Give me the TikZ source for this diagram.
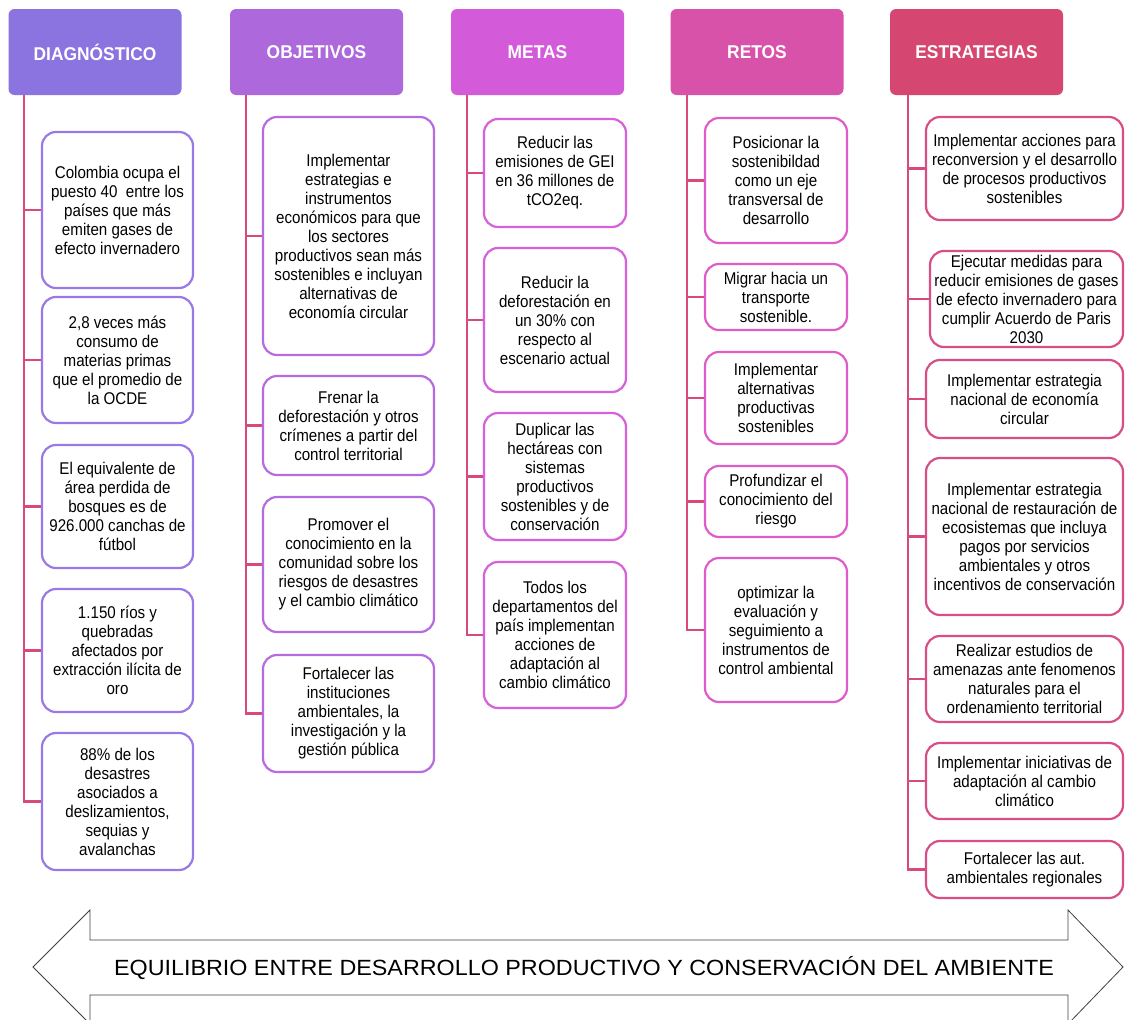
\documentclass[tikz,border=0pt]{standalone}
\usepackage{fontspec}
\setmainfont{Liberation Sans}
\newfontfamily\narrowf[FakeStretch=0.89]{Liberation Sans}
\newfontfamily\headf[FakeStretch=0.94]{Liberation Sans}
\newfontfamily\widef[FakeStretch=1.06]{Liberation Sans}
\definecolor{hA}{HTML}{8B73E0}
\definecolor{hB}{HTML}{AD69DC}
\definecolor{hC}{HTML}{D35BDA}
\definecolor{hD}{HTML}{D852AA}
\definecolor{hE}{HTML}{D54771}
\definecolor{bA}{HTML}{9A78E6}
\definecolor{bB}{HTML}{B76BE0}
\definecolor{bC}{HTML}{D760DB}
\definecolor{bD}{HTML}{E05DC9}
\definecolor{bE}{HTML}{D94E87}
\definecolor{spinec}{HTML}{D94A7B}
\tikzset{
  hdr/.style={rounded corners=6pt, draw=none, text=white, inner sep=0pt,
    font=\headf\bfseries\fontsize{18.5}{20}\selectfont,
    minimum width=173pt, minimum height=86pt},
  bx/.style={draw, rounded corners=14pt, line width=2.2pt, fill=white,
    align=center, inner sep=0pt, font=\narrowf\fontsize{17}{19}\selectfont},
  colA/.style={bx, draw=bA, minimum width=151pt},
  colB/.style={bx, draw=bB, minimum width=171pt},
  colC/.style={bx, draw=bC, minimum width=142pt},
  colD/.style={bx, draw=bD, minimum width=142pt},
  colE/.style={bx, draw=bE, minimum width=197pt},
  spine/.style={draw=spinec, line width=2.6pt},
  bigarrow/.style={draw=black!75, line width=0.8pt, fill=white, line join=miter}
}
\begin{document}
\begin{tikzpicture}[x=1pt,y=-1pt]
\useasboundingbox[fill=white] (0,0) rectangle (1125,1020);

% headers
\node[hdr, fill=hA] (hA) at (95,52) {DIAGNÓSTICO};
\node[hdr, fill=hB] (hB) at (316.5,52) {OBJETIVOS};
\node[hdr, fill=hC] (hC) at (537.5,52) {METAS};
\node[hdr, fill=hD] (hD) at (757,52) {RETOS};
\node[hdr, fill=hE] (hE) at (976.5,52) {ESTRATEGIAS};

% column 1
\node[colA, minimum height=156pt] (a1) at (117.5,210) {Colombia ocupa el\\puesto 40~ entre los\\países que más\\emiten gases de\\efecto invernadero};
\node[colA, minimum height=126pt] (a2) at (117.5,360) {2,8 veces más\\consumo de\\materias primas\\que el promedio de\\la OCDE};
\node[colA, minimum height=123pt] (a3) at (117.5,506.5) {El equivalente de\\área perdida de\\bosques es de\\926.000 canchas de\\fútbol};
\node[colA, minimum height=123pt] (a4) at (117.5,650.5) {1.150 ríos y\\quebradas\\afectados por\\extracción ilícita de\\oro};
\node[colA, minimum height=137pt] (a5) at (117.5,801.5) {88\% de los\\desastres\\asociados a\\deslizamientos,\\sequias y\\avalanchas};

% column 2
\node[colB, minimum height=238pt] (b1) at (348.5,236) {Implementar\\estrategias e\\instrumentos\\económicos para que\\los sectores\\productivos sean más\\sostenibles e incluyan\\alternativas de\\economía circular};
\node[colB, minimum height=99pt] (b2) at (348.5,425.5) {Frenar la\\deforestación y otros\\crímenes a partir del\\control territorial};
\node[colB, minimum height=135pt] (b3) at (348.5,564.5) {Promover el\\conocimiento en la\\comunidad sobre los\\riesgos de desastres\\y el cambio climático};
\node[colB, minimum height=117pt] (b4) at (348.5,713.5) {Fortalecer las\\instituciones\\ambientales, la\\investigación y la\\gestión pública};

% column 3
\node[colC, minimum height=108pt] (c1) at (555,173) {Reducir las\\emisiones de GEI\\en 36 millones de\\tCO2eq.};
\node[colC, minimum height=144pt] (c2) at (555,320) {Reducir la\\deforestación en\\un 30\% con\\respecto al\\escenario actual};
\node[colC, minimum height=127pt] (c3) at (555,476.5) {Duplicar las\\hectáreas con\\sistemas\\productivos\\sostenibles y de\\conservación};
\node[colC, minimum height=146pt] (c4) at (555,635) {Todos los\\departamentos del\\país implementan\\acciones de\\adaptación al\\cambio climático};

% column 4
\node[colD, minimum height=125pt] (d1) at (776,180.5) {Posicionar la\\sostenibildad\\como un eje\\transversal de\\desarrollo};
\node[colD, minimum height=66pt] (d2) at (776,297) {Migrar hacia un\\transporte\\sostenible.};
\node[colD, minimum height=92pt] (d3) at (776,398) {Implementar\\alternativas\\productivas\\sostenibles};
\node[colD, minimum height=71pt] (d4) at (776,501.5) {Profundizar el\\conocimiento del\\riesgo};
\node[colD, minimum height=144pt] (d5) at (776,630) {optimizar la\\evaluación y\\seguimiento a\\instrumentos de\\control ambiental};

% column 5
\node[colE, minimum height=103pt] (e1) at (1024.5,168.5) {Implementar acciones para\\reconversion y el desarrollo\\de procesos productivos\\sostenibles};
\node[colE, minimum height=96pt, minimum width=193pt] (e2) at (1026.5,299) {Ejecutar medidas para\\reducir emisiones de gases\\de efecto invernadero para\\cumplir Acuerdo de Paris\\2030};
\node[colE, minimum height=78pt] (e3) at (1024.5,399) {Implementar estrategia\\nacional de economía\\circular};
\node[colE, minimum height=157pt] (e4) at (1024.5,536.5) {Implementar estrategia\\nacional de restauración de\\ecosistemas que incluya\\pagos por servicios\\ambientales y otros\\incentivos de conservación};
\node[colE, minimum height=86pt] (e5) at (1024.5,679) {Realizar estudios de\\amenazas ante fenomenos\\naturales para el\\ordenamiento territorial};
\node[colE, minimum height=76pt] (e6) at (1024.5,781) {Implementar iniciativas de\\adaptación al cambio\\climático};
\node[colE, minimum height=57pt] (e7) at (1024.5,869.5) {Fortalecer las aut.\\ambientales regionales};

% spines
\coordinate (tA) at (24,95);
\coordinate (tB) at (246,95);
\coordinate (tC) at (467,95);
\coordinate (tD) at (687,95);
\coordinate (tE) at (908,95);
\draw[spine] (tA) |- (a5.west);
\foreach \n in {a1,a2,a3,a4} \draw[spine] (tA |- \n.west) -- (\n.west);
\draw[spine] (tB) |- (b4.west);
\foreach \n in {b1,b2,b3} \draw[spine] (tB |- \n.west) -- (\n.west);
\draw[spine] (tC) |- (c4.west);
\foreach \n in {c1,c2,c3} \draw[spine] (tC |- \n.west) -- (\n.west);
\draw[spine] (tD) |- (d5.west);
\foreach \n in {d1,d2,d3,d4} \draw[spine] (tD |- \n.west) -- (\n.west);
\draw[spine] (tE) |- (e7.west);
\foreach \n in {e1,e2,e3,e4,e5,e6} \draw[spine] (tE |- \n.west) -- (\n.west);

% bottom double arrow
\draw[bigarrow] (33,967) -- (90,910) -- (90,940) -- (1068,940) -- (1068,910)
  -- (1123,967) -- (1068,1024) -- (1068,995) -- (90,995) -- (90,1024) -- cycle;
\node[font=\widef\fontsize{22}{24}\selectfont, inner sep=0pt] (lbl) at (584,968)
  {EQUILIBRIO ENTRE DESARROLLO PRODUCTIVO Y CONSERVACIÓN DEL AMBIENTE};
\end{tikzpicture}
\end{document}
